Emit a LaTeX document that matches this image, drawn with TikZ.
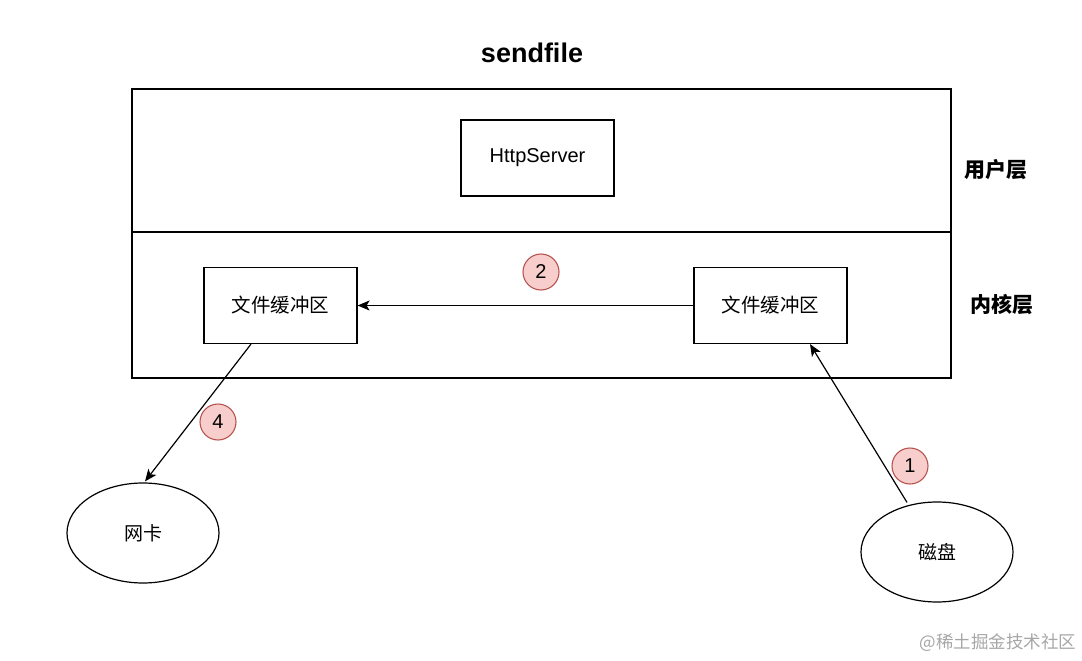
\documentclass[tikz,border=0pt]{standalone}
\usepackage{fontspec}
\setmainfont{Liberation Sans}
\newfontfamily\cjk{Noto Sans CJK SC}
\usetikzlibrary{arrows.meta,shapes.geometric,calc}
\definecolor{numfill}{HTML}{F8CECC}
\definecolor{numdraw}{HTML}{B85450}
\begin{document}
\begin{tikzpicture}[x=1pt,y=-1pt,
  box/.style={draw,line width=1.2pt,minimum width=153pt,minimum height=76pt,inner sep=0pt,font=\fontsize{20}{24}\selectfont},
  oval/.style={draw,line width=1.2pt,ellipse,minimum width=152pt,minimum height=100pt,inner sep=0pt,font=\fontsize{19}{22}\selectfont\cjk},
  num/.style={circle,draw=numdraw,fill=numfill,line width=1.1pt,minimum size=36pt,inner sep=0pt,font=\fontsize{20}{22}\selectfont},
  conn/.style={line width=1.2pt,-{Stealth[length=12pt,width=10pt,inset=3pt]}},
  layer/.style={font=\fontsize{21}{24}\selectfont\bfseries\cjk}]
\useasboundingbox (0,0) rectangle (1082,661);
\node[font=\fontsize{27}{30}\selectfont\bfseries] (title) at (532,53) {sendfile};
\node[draw,line width=1.2pt,minimum width=819pt,minimum height=143pt,inner sep=0pt] (user) at (541.5,160.5) {};
\node[draw,line width=1.2pt,minimum width=819pt,minimum height=146pt,inner sep=0pt] (kernel) at (541.5,305) {};
\node[box] (http) at (537.5,158) {HttpServer};
\node[box,font=\fontsize{19.5}{22}\selectfont\cjk] (lb) at (280.5,305.5) {文件缓冲区};
\node[box,font=\fontsize{19.5}{22}\selectfont\cjk] (rb) at (770.5,305.5) {文件缓冲区};
\node[layer] (ul) at (996,170) {用户层};
\node[layer] (kl) at (1002,305) {内核层};
\node[oval] (nic) at (143,533) {网卡};
\node[oval] (disk) at (937,552) {磁盘};
\node[num] (n2) at (541,272) {2};
\node[num] (n4) at (218,422) {4};
\node[num] (n1) at (910,466) {1};
\draw[conn] (rb.west) -- (lb.east);
\draw[conn] ($(lb.south)+(-29.5,0)$) -- ($(nic.north)+(2,-1)$);
\draw[conn] ($(disk.north)+(-30,1)$) -- ($(rb.south)+(39.5,0)$);
\node[font=\fontsize{17.5}{20}\selectfont\cjk,text=black!35] (wm) at (998,643) {@稀土掘金技术社区};
\end{tikzpicture}
\end{document}
